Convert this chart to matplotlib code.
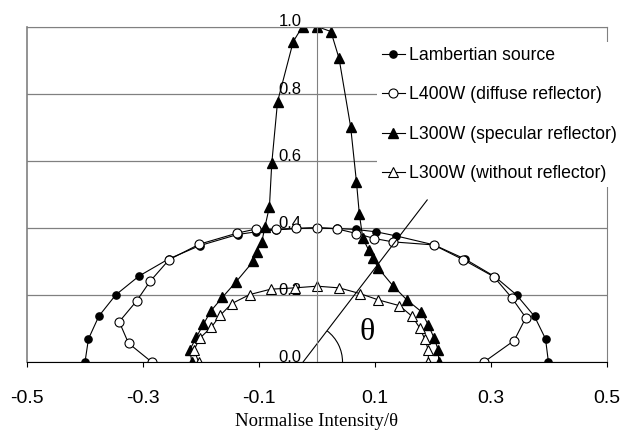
import matplotlib
matplotlib.use('Agg')
import matplotlib.pyplot as plt
from matplotlib.patches import Arc

plt.rcParams['font.family'] = ['Liberation Sans', 'DejaVu Sans']

# 数据
lam_x = [-0.400, -0.394, -0.376, -0.347, -0.307, -0.256, -0.202, -0.137, -0.105, -0.070, -0.036, 0.000,
         0.034, 0.067, 0.102, 0.136, 0.202, 0.255, 0.307, 0.344, 0.375, 0.394, 0.399]
lam_y = [0.000, 0.069, 0.137, 0.200, 0.256, 0.307, 0.347, 0.380, 0.388, 0.394, 0.398, 0.400,
         0.398, 0.395, 0.388, 0.376, 0.349, 0.307, 0.254, 0.200, 0.136, 0.069, 0.000]

diff_x = [-0.285, -0.325, -0.341, -0.311, -0.288, -0.255, -0.203, -0.138, -0.106, -0.070, -0.036, 0.000,
          0.034, 0.068, 0.099, 0.131, 0.201, 0.252, 0.305, 0.336, 0.360, 0.340, 0.288]
diff_y = [0.000, 0.056, 0.120, 0.182, 0.240, 0.305, 0.351, 0.384, 0.396, 0.395, 0.398, 0.400,
          0.397, 0.383, 0.368, 0.358, 0.349, 0.305, 0.254, 0.191, 0.132, 0.064, 0.000]

spec_x = [-0.216, -0.219, -0.208, -0.196, -0.183, -0.163, -0.140, -0.110, -0.104, -0.095, -0.090,
          -0.082, -0.078, -0.068, -0.041, -0.025, 0.000, 0.024, 0.038, 0.058, 0.068, 0.073, 0.079,
          0.089, 0.097, 0.105, 0.131, 0.155, 0.180, 0.192, 0.202, 0.209, 0.210]
spec_y = [0.000, 0.037, 0.074, 0.112, 0.152, 0.193, 0.238, 0.300, 0.329, 0.359, 0.401,
          0.463, 0.592, 0.776, 0.955, 1.000, 1.000, 0.985, 0.905, 0.701, 0.537, 0.441, 0.369,
          0.334, 0.309, 0.281, 0.227, 0.185, 0.150, 0.110, 0.071, 0.036, 0.000]

wo_x = [-0.204, -0.212, -0.202, -0.182, -0.167, -0.147, -0.116, -0.080, -0.038, 0.000,
        0.038, 0.074, 0.106, 0.142, 0.164, 0.177, 0.186, 0.192, 0.192]
wo_y = [0.000, 0.036, 0.071, 0.104, 0.139, 0.174, 0.201, 0.217, 0.221, 0.226,
        0.221, 0.204, 0.185, 0.168, 0.136, 0.102, 0.068, 0.035, 0.000]

labels = ['Lambertian source', 'L400W (diffuse reflector)',
          'L300W (specular reflector)', 'L300W (without reflector)']

x_ticks = [-0.5, -0.3, -0.1, 0.1, 0.3, 0.5]
x_tick_labels = ['-0.5', '-0.3', '-0.1', '0.1', '0.3', '0.5']
y_ticks = [0.0, 0.2, 0.4, 0.6, 0.8, 1.0]
y_tick_labels = ['0.0', '0.2', '0.4', '0.6', '0.8', '1.0']

# theta 标注线
theta_line_x = [-0.024, 0.19]
theta_line_y = [0.0, 0.483]

fig = plt.figure(figsize=(6.23, 4.34), dpi=100)
ax = fig.add_axes([27 / 623, 72 / 434, 580 / 623, 335.5 / 434])

lw = 0.8
ax.plot(lam_x, lam_y, color='black', lw=lw, marker='o', ms=5.2,
        mfc='black', mec='black', label=labels[0])
ax.plot(diff_x, diff_y, color='black', lw=lw, marker='o', ms=6.5,
        mfc='white', mec='black', mew=0.8, label=labels[1])
ax.plot(spec_x, spec_y, color='black', lw=lw, marker='^', ms=7,
        mfc='black', mec='black', label=labels[2])
ax.plot(wo_x, wo_y, color='black', lw=lw, marker='^', ms=7,
        mfc='white', mec='black', mew=0.8, label=labels[3])

# theta 角示意
ax.plot(theta_line_x, theta_line_y, color='black', lw=0.8)
ax.add_patch(Arc((theta_line_x[0], 0), 0.136, 0.234, theta1=0, theta2=66,
                 color='black', lw=0.8))
ax.text(0.086, 0.087, 'θ', fontsize=23, family='Liberation Serif',
        ha='center', va='center')

ax.set_xlim(-0.5, 0.5)
ax.set_ylim(0, 1.0)

# 网格与坐标轴
ax.yaxis.grid(True, color='#808080', lw=0.9)
ax.set_axisbelow(True)
ax.spines['left'].set_position(('data', 0))
ax.spines['left'].set_color('#808080')
ax.spines['top'].set_color('#808080')
ax.spines['right'].set_color('#808080')
ax.spines['bottom'].set_color('black')
ax.axvline(-0.5, color='#808080', lw=1.2, clip_on=False)

ax.set_xticks(x_ticks, x_tick_labels)
ax.set_yticks(y_ticks, y_tick_labels, va='baseline')
ax.tick_params(axis='x', direction='out', length=3.5, width=0.8, pad=17, labelsize=14)
ax.tick_params(axis='y', length=0, pad=11, labelsize=12)

ax.set_xlabel('Normalise Intensity/θ', family='Liberation Serif', fontsize=13.5, labelpad=4)

leg = ax.legend(loc='upper left', bbox_to_anchor=(0.603, 0.955), fontsize=12.7,
                frameon=True, framealpha=1, facecolor='white', edgecolor='none',
                fancybox=False, borderpad=0.3, labelspacing=1.27,
                handlelength=1.3, handletextpad=0.25, borderaxespad=0)

plt.savefig('out.png', dpi=100)
